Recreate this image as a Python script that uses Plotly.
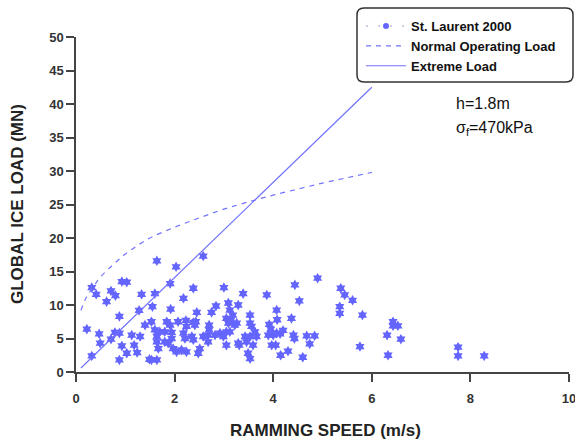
import plotly.graph_objects as go

# ---- data ----
speed = [0.22, 0.32, 0.32, 0.41, 0.47, 0.49, 0.62, 0.71, 0.71, 0.80, 0.79, 0.88, 0.88, 0.88,
         0.93, 0.93, 1.03, 1.03, 1.13, 1.18, 1.24, 1.30, 1.28, 1.33, 1.40, 1.49,
         1.64, 1.91, 2.03, 2.38, 2.58, 3.00,
         1.60, 2.18, 3.39, 1.55, 1.92, 2.45, 2.75, 2.84, 3.09, 3.29, 3.12, 3.18, 3.53,
         1.53, 1.84, 1.91, 2.07, 2.23, 2.38, 2.43, 2.24, 2.41, 2.70, 2.70, 3.09, 3.05, 3.12,
         3.26, 3.53, 3.56, 1.60, 1.70, 1.80, 1.64, 1.64, 1.67, 1.94, 1.94, 2.18, 2.21, 2.35,
         2.38, 2.58, 2.68, 2.68, 2.82, 2.92, 2.99, 3.05, 3.29, 3.53, 3.66, 3.59, 3.49, 3.53,
         1.80, 1.87, 1.97, 2.04, 2.14, 2.24, 2.51, 2.48, 1.53, 1.64,
         3.05, 3.14, 3.22, 3.43, 3.46, 3.63, 3.31,
         3.87, 3.92, 3.95, 3.90, 4.07, 4.08, 4.00, 4.07, 4.14, 4.20, 3.97, 4.05, 4.15, 4.30,
         4.37, 4.44, 4.53, 4.41, 4.43, 4.60, 4.68, 4.74, 4.84, 4.90, 5.37, 5.45, 5.61, 5.35,
         5.35, 5.81, 5.76,
         6.31, 6.33, 6.43, 6.43, 6.53, 6.59, 7.75, 7.75, 8.28]
load = [6.4, 2.4, 12.6, 11.6, 5.7, 4.3, 10.5, 12.1, 4.9, 11.4, 5.9, 5.8, 8.3, 1.8,
        3.9, 13.5, 13.4, 2.8, 5.5, 4.0, 2.9, 5.3, 9.2, 11.6, 7.0, 1.9,
        16.6, 13.2, 15.7, 12.5, 17.3, 12.6,
        11.7, 11.0, 11.7, 9.75, 9.4, 8.9, 8.9, 9.85, 10.3, 10.0, 9.25, 8.5, 8.5,
        7.5, 7.5, 7.0, 7.5, 7.7, 7.4, 7.5, 6.8, 7.0, 7.0, 6.3, 7.3, 6.0, 6.0,
        7.3, 7.3, 6.8, 6.3, 6.0, 6.0, 5.3, 4.5, 3.5, 5.9, 5.0, 5.8, 5.0, 5.3,
        4.8, 5.3, 5.5, 4.5, 5.5, 5.8, 5.3, 4.0, 4.3, 5.3, 5.3, 4.0, 2.8, 2.0,
        4.5, 4.3, 3.5, 3.0, 3.3, 3.0, 3.5, 2.8, 1.8, 1.8,
        8.0, 7.7, 7.0, 5.3, 4.5, 6.0, 4.0,
        11.5, 7.1, 6.4, 5.5, 9.25, 7.8, 5.5, 5.8, 5.7, 6.2, 4.0, 4.0, 2.5, 3.1,
        8.0, 13.0, 10.6, 5.5, 5.0, 2.2, 5.4, 4.2, 5.4, 14.0, 12.5, 11.5, 10.7, 9.75,
        8.75, 8.5, 3.8,
        5.5, 2.5, 7.5, 6.9, 6.9, 4.9, 3.7, 2.4, 2.4]

normal_speed = [0.1, 0.2, 0.35, 0.5, 0.75, 1.0, 1.25, 1.5, 2.0, 2.5, 3.0, 3.5, 4.0, 4.5, 5.0, 5.5, 6.0]
normal_load = [9.2, 11.0, 12.7, 14.2, 16.0, 17.6, 18.9, 20.0, 21.6, 23.0, 24.3, 25.4, 26.4, 27.3, 28.2, 29.0, 29.8]

extreme_speed = [0.1, 6.0]
extreme_load = [0.6, 42.5]

x_ticks = [0, 2, 4, 6, 8, 10]
y_ticks = [0, 5, 10, 15, 20, 25, 30, 35, 40, 45, 50]

MARK = "#6464ff"
LINE = "#7272ff"
FONT = "Liberation Sans, Arial, sans-serif"

fig = go.Figure()
fig.add_trace(go.Scatter(x=speed, y=load, mode="markers", showlegend=False,
                         marker=dict(symbol="hexagram", size=8, color=MARK, line=dict(width=0))))
fig.add_trace(go.Scatter(x=[None], y=[None], mode="lines+markers", name="St. Laurent 2000",
                         line=dict(color="#c0c0d8", width=1.5, dash="2px,10px"),
                         marker=dict(symbol="circle", size=6, color=MARK)))
fig.add_trace(go.Scatter(x=normal_speed, y=normal_load, mode="lines", name="Normal Operating Load",
                         line=dict(color=LINE, width=1.2, dash="5px,5px", shape="spline")))
fig.add_trace(go.Scatter(x=extreme_speed, y=extreme_load, mode="lines", name="Extreme Load",
                         line=dict(color=LINE, width=1.2)))

W, H = 575, 439
L, R, T, B = 76, 6, 37, 67
pw, ph = W - L - R, H - T - B

def px(x):
    return (x - L) / pw

def py(y):
    return (H - B - y) / ph

# rounded legend box
x0, x1, y0, y1, r = 357, 573, 8, 82, 7
rx, ry = r / pw, r / ph
path = (f"M {px(x0)+rx},{py(y0)} L {px(x1)-rx},{py(y0)} Q {px(x1)},{py(y0)} {px(x1)},{py(y0)-ry} "
        f"L {px(x1)},{py(y1)+ry} Q {px(x1)},{py(y1)} {px(x1)-rx},{py(y1)} "
        f"L {px(x0)+rx},{py(y1)} Q {px(x0)},{py(y1)} {px(x0)},{py(y1)+ry} "
        f"L {px(x0)},{py(y0)-ry} Q {px(x0)},{py(y0)} {px(x0)+rx},{py(y0)} Z")

fig.update_layout(
    width=W, height=H,
    margin=dict(l=L, r=R, t=T, b=B),
    paper_bgcolor="white", plot_bgcolor="white",
    font=dict(family=FONT, color="#222"),
    shapes=[dict(type="path", xref="paper", yref="paper", path=path,
                 line=dict(color="#333", width=1.5), fillcolor="rgba(0,0,0,0)", layer="above")],
    legend=dict(x=px(361), y=py(11), xanchor="left", yanchor="top",
                bgcolor="rgba(0,0,0,0)", borderwidth=0,
                font=dict(family=FONT, size=13, color="#111", weight="bold"),
                tracegroupgap=0, itemwidth=40),
    annotations=[
        dict(text="h=1.8m", x=px(454), y=py(103), xref="paper", yref="paper",
             xanchor="left", yanchor="middle", showarrow=False,
             font=dict(family=FONT, size=16, color="#111")),
        dict(text="σ<sub>f</sub>=470kPa", x=px(454), y=py(128), xref="paper", yref="paper",
             xanchor="left", yanchor="middle", showarrow=False,
             font=dict(family=FONT, size=16, color="#111")),
        dict(text="RAMMING SPEED (m/s)", x=px(325), y=py(430), xref="paper", yref="paper",
             xanchor="center", yanchor="middle", showarrow=False,
             font=dict(family=FONT, size=17, color="#222", weight="bold")),
        dict(text="GLOBAL ICE LOAD (MN)", x=px(17), y=py(204), xref="paper", yref="paper",
             xanchor="center", yanchor="middle", showarrow=False, textangle=-90,
             font=dict(family=FONT, size=17, color="#222", weight="bold")),
    ],
)
fig.update_xaxes(range=[0, 10], tickvals=x_ticks, ticktext=[str(v) for v in x_ticks],
                 automargin=False, ticklabeloverflow="allow",
                 showgrid=False, zeroline=False, showline=True, linecolor="#444", linewidth=1.5,
                 ticks="outside", ticklen=8, tickwidth=1.5, tickcolor="#444",
                 ticklabelstandoff=6,
                 tickfont=dict(family=FONT, size=13, color="#333", weight="bold"))
fig.update_yaxes(range=[0, 50], tickvals=y_ticks, ticktext=[str(v) for v in y_ticks],
                 automargin=False, ticklabeloverflow="allow",
                 showgrid=False, zeroline=False, showline=True, linecolor="#444", linewidth=1.5,
                 ticks="outside", ticklen=8, tickwidth=1.5, tickcolor="#444",
                 tickfont=dict(family=FONT, size=13, color="#333", weight="bold"))

fig.write_html("out.html", config={"displayModeBar": False},
               post_script="document.body.style.margin='0';document.body.style.overflow='hidden';")
